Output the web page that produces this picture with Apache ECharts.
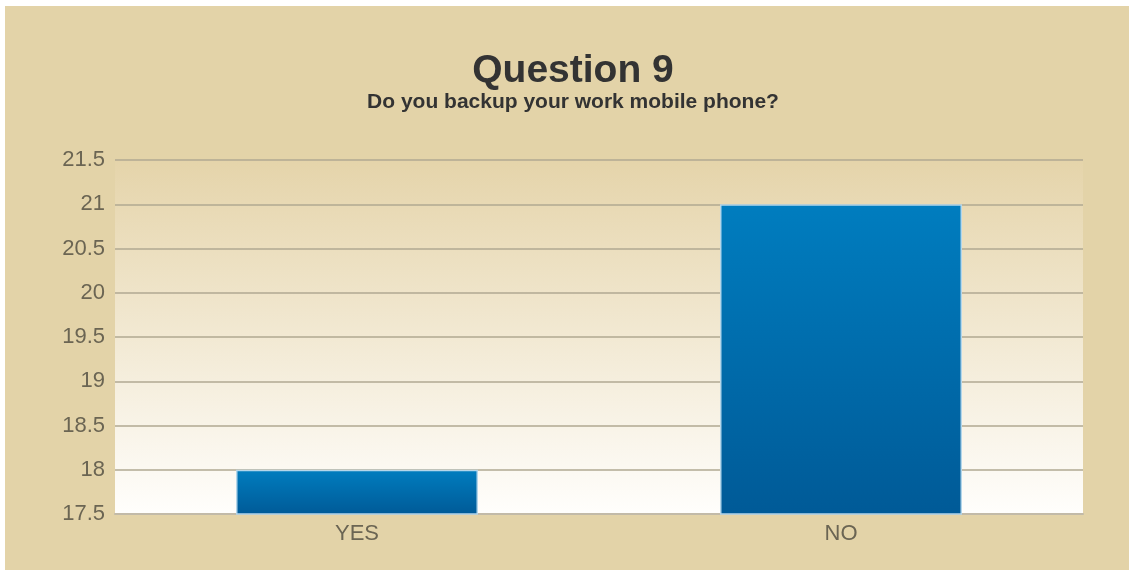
<!DOCTYPE html>
<html>
<head>
<meta charset="utf-8">
<script src="https://cdn.jsdelivr.net/npm/echarts@6/dist/echarts.min.js"></script>
<style>
  html, body { margin: 0; padding: 0; background: #ffffff; }
  #chart { position: absolute; left: 5px; top: 6px; width: 1124px; height: 564px; }
</style>
</head>
<body>
<div id="chart"></div>
<script>
// Survey answers for question 9
const categories = ['YES', 'NO'];
const responses = [18, 21];
const yTicks = { min: 17.5, max: 21.5, step: 0.5 };
const titleText = 'Question 9';
const subtitleText = 'Do you backup your work mobile phone?';

const chart = echarts.init(document.getElementById('chart'));

chart.setOption({
  backgroundColor: '#e3d3a8',
  animation: false,
  title: [
    {
      text: titleText,
      left: 568, top: 46, textAlign: 'center', padding: 0,
      textStyle: { fontFamily: 'Liberation Sans, Arial, sans-serif', fontSize: 39, fontWeight: 'bold', color: '#333333' }
    },
    {
      text: subtitleText,
      left: 568, top: 86, textAlign: 'center', padding: 0,
      textStyle: { fontFamily: 'Liberation Sans, Arial, sans-serif', fontSize: 21, fontWeight: 'bold', color: '#333333' }
    }
  ],
  grid: {
    left: 110, right: 46, top: 154, bottom: 56,
    show: true,
    borderWidth: 0,
    backgroundColor: new echarts.graphic.LinearGradient(0, 0, 0, 1, [
      { offset: 0, color: '#e5d4aa' },
      { offset: 1, color: '#fffefc' }
    ])
  },
  xAxis: {
    type: 'category',
    data: categories,
    axisTick: { show: false },
    axisLine: { lineStyle: { color: '#c2baa8', width: 2 } },
    axisLabel: { margin: 9, fontFamily: 'Liberation Sans, Arial, sans-serif', fontSize: 22, color: '#6b6553' }
  },
  yAxis: {
    type: 'value',
    min: yTicks.min, max: yTicks.max, interval: yTicks.step,
    axisLine: { show: false },
    axisTick: { show: false },
    splitLine: { lineStyle: { color: '#b0a892', width: 1.5 } },
    axisLabel: { margin: 10, fontFamily: 'Liberation Sans, Arial, sans-serif', fontSize: 22, color: '#6b6553' }
  },
  series: [{
    type: 'bar',
    data: responses,
    barWidth: '50%',
    itemStyle: {
      color: new echarts.graphic.LinearGradient(0, 0, 0, 1, [
        { offset: 0, color: '#007dbf' },
        { offset: 1, color: '#005a97' }
      ]),
      borderColor: '#b4d6ea',
      borderWidth: 1.5
    }
  }]
});
</script>
</body>
</html>
